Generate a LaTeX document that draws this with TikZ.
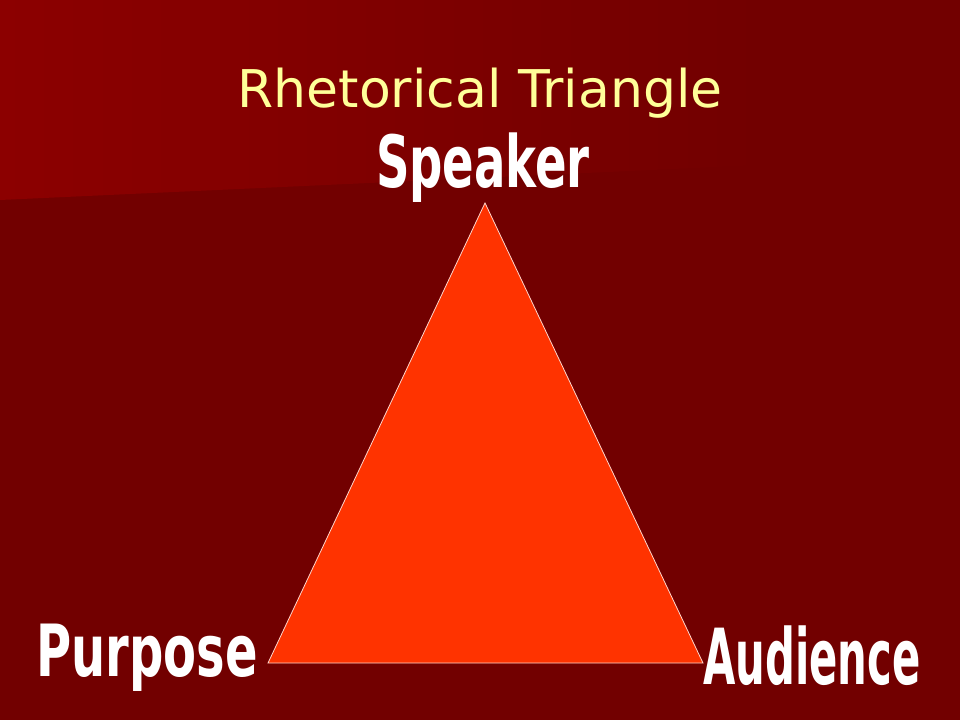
\documentclass[tikz,border=0pt]{standalone}
\usepackage{fontspec}
\setmainfont{DejaVu Sans}
\newfontfamily\labelfont{DejaVu Sans Condensed}
\definecolor{slidebg}{HTML}{720000}
\definecolor{slidehi}{HTML}{8C0000}
\definecolor{trifill}{HTML}{FF3300}
\definecolor{titlecol}{HTML}{FFFF99}
\tikzset{
  vertexlabel/.style={text=white,font=\labelfont\bfseries\fontsize{40}{40}\selectfont},
}
\begin{document}
\begin{tikzpicture}[x=0.75pt,y=0.75pt,yscale=-1,xscale=1]
        % background
        \fill[slidebg] (0,0) rectangle (960,720);
        \shade[left color=slidehi,right color=slidebg] (0,0) -- (760,0) -- (760,165) -- (0,200) -- cycle;
        \useasboundingbox (0,0) rectangle (960,720);

        % title
        \node[text=titlecol,font=\fontsize{39}{39}\selectfont] (title) at (480,93) {Rhetorical Triangle};

        % triangle
        \coordinate (top) at (485,203);
        \coordinate (left) at (268,663);
        \coordinate (right) at (703,663);
        \draw[fill=trifill,draw=white!80!trifill,line width=0.6pt] (top) -- (right) -- (left) -- cycle;

        % labels
        \node[vertexlabel] (speaker) at (483,168) {\scalebox{0.97}[1.35]{Speaker}};
        \node[vertexlabel] (purpose) at (147,658) {\scalebox{1}[1.35]{Purpose}};
        \node[vertexlabel] (audience) at (812,656) {\scalebox{0.87}[1.45]{Audience}};
\end{tikzpicture}
\end{document}
